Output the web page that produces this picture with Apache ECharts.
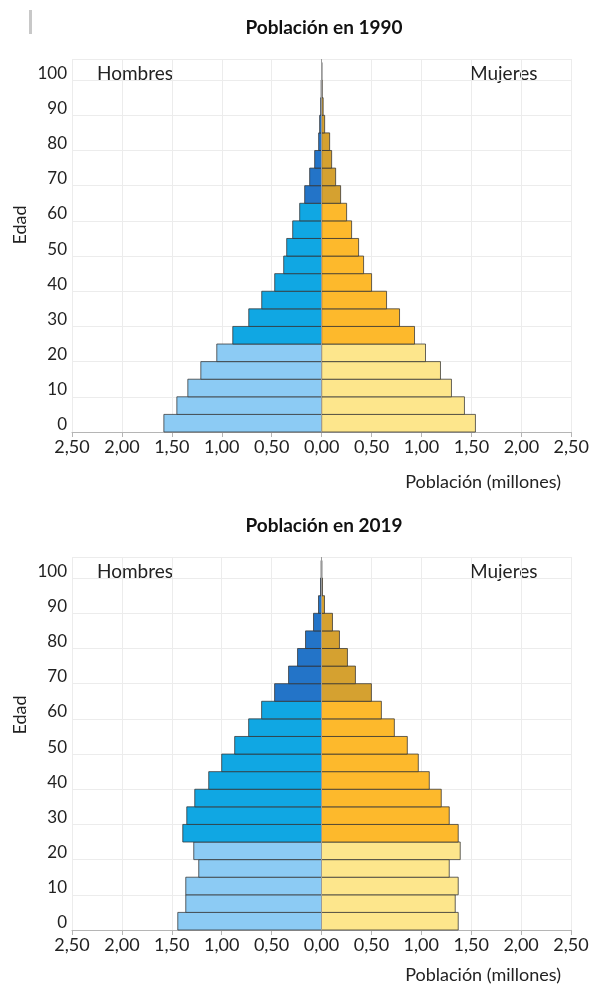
<!DOCTYPE html>
<html>
<head>
<meta charset="utf-8">
<script src="https://cdn.jsdelivr.net/npm/echarts@6/dist/echarts.min.js"></script>
<style>
html,body{margin:0;padding:0;background:#fff;}
#chart{width:592px;height:993px;}
</style>
</head>
<body>
<div id="chart"></div>
<script>
// Age group starts (5-year groups)
const ageGroups = [0,5,10,15,20,25,30,35,40,45,50,55,60,65,70,75,80,85,90,95,100];
// Population in millions, 1990
const hombres1990 = [1.58,1.45,1.34,1.21,1.05,0.89,0.73,0.60,0.47,0.38,0.35,0.29,0.22,0.17,0.12,0.07,0.03,0.02,0.01,0.005,0];
const mujeres1990 = [1.54,1.43,1.30,1.19,1.04,0.93,0.78,0.65,0.50,0.42,0.37,0.30,0.25,0.19,0.14,0.10,0.08,0.03,0.015,0.005,0];
// Population in millions, 2019
const hombres2019 = [1.44,1.36,1.36,1.23,1.28,1.39,1.35,1.27,1.13,1.00,0.87,0.73,0.60,0.47,0.33,0.24,0.16,0.08,0.03,0.01,0.004];
const mujeres2019 = [1.37,1.34,1.37,1.28,1.39,1.37,1.28,1.20,1.08,0.97,0.86,0.73,0.60,0.50,0.34,0.26,0.18,0.11,0.03,0.01,0.004];
const xTicks = [-2.5,-2,-1.5,-1,-0.5,0,0.5,1,1.5,2,2.5];
const yTicks = [0,10,20,30,40,50,60,70,80,90,100];
const titles = ['Población en 1990','Población en 2019'];

const FONT = 'Lato, "Open Sans", sans-serif';
const colM = ['#8ccbf4', '#10a7e3', '#2374c8'];
const colF = ['#fde68c', '#fdb92c', '#d5a130'];

function colorFor(age, cols){
  if (age < 25) return cols[0];
  if (age < 65) return cols[1];
  return cols[2];
}

function renderBar(cols){
  return function(params, api){
    const v = api.value(0), a = api.value(1);
    const p1 = api.coord([0, a + 5]);
    const p2 = api.coord([v, a]);
    const x = Math.min(p1[0], p2[0]);
    const w = Math.abs(p2[0] - p1[0]);
    return {
      type: 'rect',
      shape: { x: x, y: p1[1], width: w, height: p2[1] - p1[1] },
      style: { fill: colorFor(a, cols), stroke: 'rgba(50,50,50,0.75)', lineWidth: 1 }
    };
  };
}

const grids = [
  { left: 72, width: 502, top: 59, height: 373 },
  { left: 72, width: 499, top: 557, height: 373 }
];

const xAxes = grids.map((g, i) => ({
  type: 'value', gridIndex: i, min: -2.5, max: 2.5, interval: 0.5,
  axisLine: { show: true, onZero: false, lineStyle: { color: '#b5b5b5', width: 1 } },
  axisTick: { show: true, length: 5, lineStyle: { color: '#b5b5b5' } },
  axisLabel: { color: '#222', fontFamily: FONT, fontSize: 18, margin: 6,
    formatter: v => Math.abs(v).toFixed(2).replace('.', ',') },
  splitLine: { show: true, lineStyle: { color: '#ececec', width: 1 } }
}));

const yAxes = grids.map((g, i) => ({
  type: 'value', gridIndex: i, min: 0, max: 106, interval: 10,
  axisLine: { show: false }, axisTick: { show: false },
  axisLabel: { color: '#222', fontFamily: FONT, fontSize: 17, margin: 5,
    verticalAlign: 'bottom', lineHeight: 14,
    formatter: v => (yTicks.indexOf(v) >= 0 ? String(v) : '') },
  splitLine: { show: true, lineStyle: { color: '#ececec', width: 1 } }
}));

function mk(vals, sign){ return ageGroups.map((a, k) => [sign * vals[k], a]); }

const datasets = [[hombres1990, mujeres1990], [hombres2019, mujeres2019]];
const series = [];
datasets.forEach((d, i) => {
  series.push({ type: 'custom', xAxisIndex: i, yAxisIndex: i, renderItem: renderBar(colM),
    encode: { x: 0, y: 1 }, data: mk(d[0], -1), z: 3 });
  series.push({ type: 'custom', xAxisIndex: i, yAxisIndex: i, renderItem: renderBar(colF),
    encode: { x: 0, y: 1 }, data: mk(d[1], 1), z: 3,
    markLine: { silent: true, symbol: 'none', label: { show: false },
      lineStyle: { color: '#9a9a9a', type: 'solid', width: 1 },
      data: [{ xAxis: 0 }] } });
});

const graphic = [];
const tops = [0, 498];
tops.forEach((dy, i) => {
  graphic.push({ type: 'text', x: 324, y: 28 + dy, style: { text: titles[i], font: 'bold 19px ' + FONT, fill: '#111', align: 'center', verticalAlign: 'middle' } });
  graphic.push({ type: 'text', x: 97, y: 74 + dy, style: { text: 'Hombres', font: '19px ' + FONT, fill: '#222', align: 'left', verticalAlign: 'middle' } });
  graphic.push({ type: 'text', x: 470, y: 74 + dy, style: { text: 'Mujeres', font: '19px ' + FONT, fill: '#222', align: 'left', verticalAlign: 'middle' } });
  graphic.push({ type: 'text', x: 20, y: 225 + dy - (i ? 8 : 0), rotation: Math.PI / 2, style: { text: 'Edad', font: '18px ' + FONT, fill: '#222', align: 'center', verticalAlign: 'middle' } });
  graphic.push({ type: 'text', x: 561, y: 482 + dy - (i ? 5 : 0), style: { text: 'Población (millones)', font: '18px ' + FONT, fill: '#222', align: 'right', verticalAlign: 'middle' } });
});
graphic.push({ type: 'rect', shape: { x: 29, y: 10, width: 3, height: 24 }, style: { fill: '#c8c8c8' } });

const chart = echarts.init(document.getElementById('chart'), null, { renderer: 'canvas' });
chart.setOption({
  animation: false,
  backgroundColor: '#fff',
  grid: grids,
  xAxis: xAxes,
  yAxis: yAxes,
  series: series,
  graphic: graphic
});
</script>
</body>
</html>
